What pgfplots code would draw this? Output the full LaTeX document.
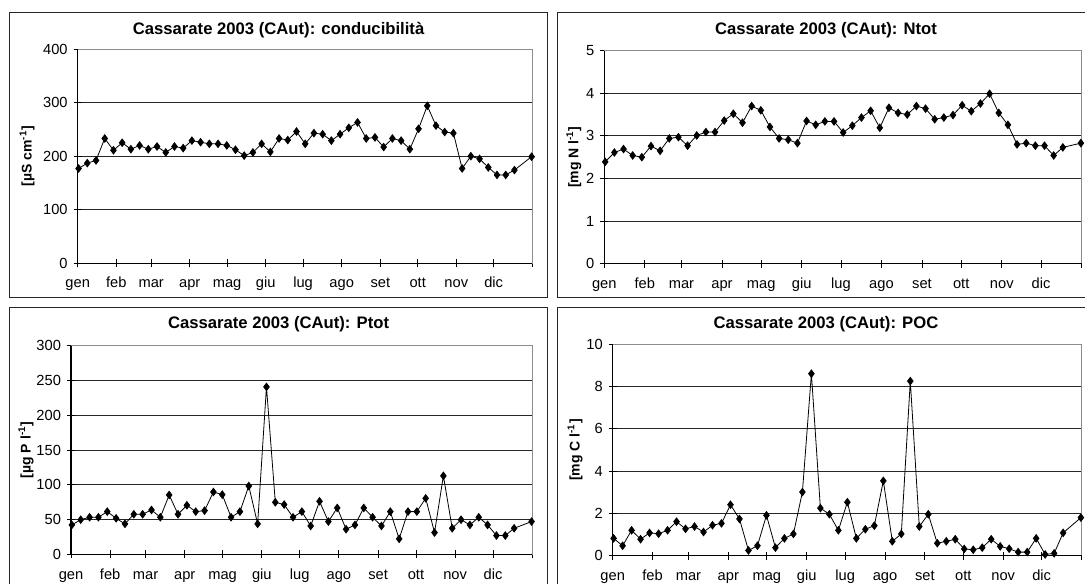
\documentclass[border=0pt]{standalone}
\usepackage{pgfplots}
\usepackage{pgfplotstable}
\pgfplotsset{compat=1.18}
\usepackage{fontspec}
\setmainfont{Liberation Sans}

\pgfplotstableread{
d cond ntot ptot poc
0.7 177 2.39 42.5 0.82
7.7 187 2.61 50 0.47
14.7 192 2.69 53.5 1.20
21.7 233 2.54 53.5 0.78
28.7 211 2.50 61.6 1.08
35.7 225 2.76 52 1.04
42.7 213 2.65 44 1.20
49.7 220 2.94 57.8 1.61
56.7 213 2.97 57.8 1.27
63.7 218 2.77 64 1.38
70.7 207 3.01 53.5 1.12
77.7 218 3.09 85.5 1.44
84.7 215 3.09 57.8 1.53
91.7 229 3.36 70.7 2.41
98.7 226 3.52 61.6 1.74
105.7 223 3.31 63 0.25
112.7 223 3.70 89.8 0.47
119.7 220 3.60 86 1.91
126.7 212 3.21 53.5 0.38
133.7 201 2.94 61.6 0.82
140.7 207 2.91 98.4 1.03
147.7 223 2.83 44 3.01
154.7 208 3.35 240.8 8.61
161.7 233 3.26 75 2.25
168.7 230 3.34 71.7 1.96
175.7 246 3.34 53.5 1.20
182.7 223 3.08 61.6 2.53
189.7 243 3.24 41 0.82
196.7 241 3.43 76.4 1.25
203.7 229 3.59 47.3 1.42
210.7 241 3.19 66.9 3.54
217.7 253 3.66 36.3 0.68
224.7 263 3.54 42.5 1.03
231.7 233 3.50 66.9 8.26
238.7 235 3.70 53.5 1.38
245.7 217 3.64 41 1.96
252.7 233 3.39 61.6 0.59
259.7 229 3.43 22.5 0.68
266.7 213 3.49 61.6 0.78
273.7 251 3.72 61.6 0.32
280.7 294 3.58 80.7 0.28
287.7 257 3.76 31.5 0.38
294.7 245 3.99 113 0.78
301.7 243 3.54 37.7 0.44
308.7 177 3.26 50 0.33
315.7 200 2.80 42.5 0.17
322.7 195 2.83 53.5 0.17
329.7 179 2.77 42.5 0.82
336.7 165 2.77 27.2 0.06
343.7 165 2.54 27.2 0.11
350.7 174 2.73 37.7 1.08
364.5 199 2.83 47.3 1.80
}\data

\pgfplotsset{
 ser/.style={black,line width=0.6pt,mark=diamond*,mark size=2.8pt,mark options={solid,fill=black,draw=black}},
 panel/.style={
  scale only axis, anchor=south west,
  xmin=0, xmax=365, ymin=0,
  xtick={0,31,59,90,120,151,181,212,243,273,304,334,365},
  xticklabels={gen,feb,mar,apr,mag,giu,lug,ago,set,ott,nov,dic,{}},
  xtick pos=bottom, ytick pos=left,
  ymajorgrids, grid style={black!85,line width=0.6pt},
  axis line style={black!45,line width=0.6pt},
  tick align=center, major tick length=6pt,
  tick style={black,line width=0.6pt},
  ticklabel style={font=\fontsize{11}{13}\selectfont},
  xticklabel style={text height=1.6ex,text depth=0.4ex,yshift=-3.5pt},
  yticklabel style={xshift=-1pt},
  /pgf/number format/assume math mode=true,
  clip=false,
  after end axis/.code={\draw[black,line width=0.8pt] (rel axis cs:0,1) -- (rel axis cs:0,0) -- (rel axis cs:1,0);}
}}

\begin{document}
\begin{tikzpicture}
\useasboundingbox (0pt,0pt) rectangle (813.75pt,438pt);
% panel frames
\draw[black!85,line width=1.1pt] (7.125pt,428.625pt) rectangle (410.775pt,214.875pt);
\draw[black!85,line width=1.1pt] (418.275pt,428.625pt) rectangle (821.25pt,214.875pt);
\draw[black!85,line width=1.1pt] (7.125pt,207.525pt) rectangle (410.775pt,-15pt);
\draw[black!85,line width=1.1pt] (418.275pt,207.525pt) rectangle (821.25pt,-15pt);
% titles
\node[anchor=base,font=\bfseries\fontsize{12.5}{14}\selectfont] at (208.95pt,411.75pt) {Cassarate 2003 (CAut): conducibilità};
\node[anchor=base,font=\bfseries\fontsize{12.5}{14}\selectfont] at (619.5pt,411.75pt) {Cassarate 2003 (CAut): Ntot};
\node[anchor=base,font=\bfseries\fontsize{12.5}{14}\selectfont] at (208.95pt,191.775pt) {Cassarate 2003 (CAut): Ptot};
\node[anchor=base,font=\bfseries\fontsize{12.5}{14}\selectfont] at (619.5pt,191.775pt) {Cassarate 2003 (CAut): POC};

\begin{axis}[panel, at={(58.275pt,240.525pt)}, width=340.9pt, height=160.7pt,
  ymax=400, ytick={0,100,200,300,400},
  ylabel={[µS cm\textsuperscript{-1}]},
  ylabel style={at={(axis description cs:-0.1115,0.5)},anchor=center,font=\bfseries\fontsize{10.5}{12}\selectfont}]
\addplot[ser] table[x=d,y=cond] {\data};
\end{axis}

\begin{axis}[panel, at={(453.225pt,240.225pt)}, width=357.9pt, height=159.75pt,
  ymax=5, ytick={0,1,2,3,4,5},
  ylabel={[mg N l\textsuperscript{-1}]},
  ylabel style={at={(axis description cs:-0.064,0.5)},anchor=center,font=\bfseries\fontsize{10.5}{12}\selectfont}]
\addplot[ser] table[x=d,y=ntot] {\data};
\end{axis}

\begin{axis}[panel, at={(53.25pt,22.125pt)}, width=345.9pt, height=156.6pt,
  ymax=300, ytick={0,50,100,150,200,250,300},
  ylabel={[µg P l\textsuperscript{-1}]},
  ylabel style={at={(axis description cs:-0.0976,0.5)},anchor=center,font=\bfseries\fontsize{10.5}{12}\selectfont}]
\addplot[ser] table[x=d,y=ptot] {\data};
\end{axis}

\begin{axis}[panel, at={(459.525pt,21.225pt)}, width=351.6pt, height=158.55pt,
  ymax=10, ytick={0,2,4,6,8,10},
  ylabel={[mg C l\textsuperscript{-1}]},
  ylabel style={at={(axis description cs:-0.080,0.5)},anchor=center,font=\bfseries\fontsize{10.5}{12}\selectfont}]
\addplot[ser] table[x=d,y=poc] {\data};
\end{axis}
\end{tikzpicture}
\end{document}
